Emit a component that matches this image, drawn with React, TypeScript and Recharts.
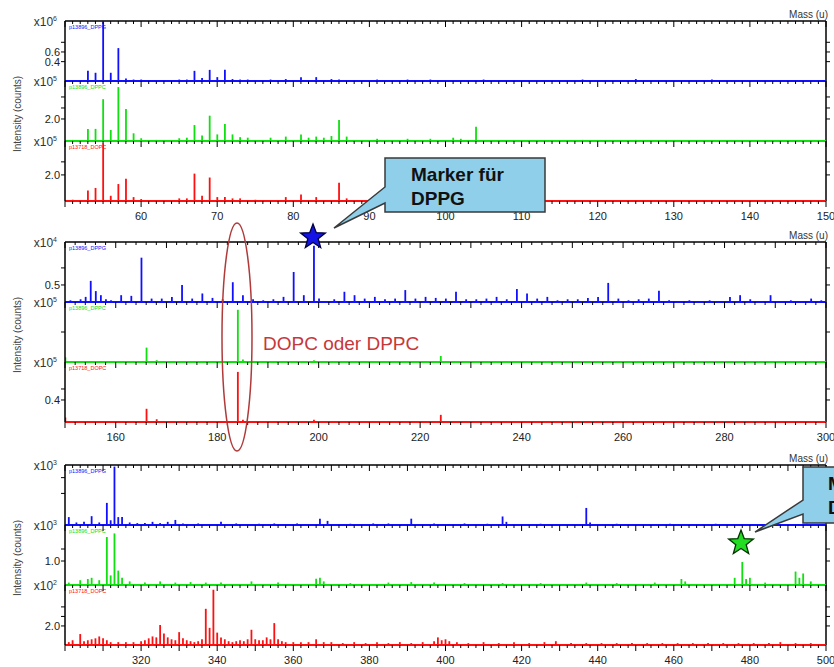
import React from "react";
import { Bar, BarChart, ReferenceLine, XAxis, YAxis } from "recharts";

type Peak = [number, number];

// panel 1, m/z 50-150
const dppgLow: Peak[] = [
  [53, 0.21], [54, 0.17], [55, 1.22], [56, 0.17], [57, 0.68], [58, 0.05], [59, 0.03], [60, 0.03],
  [63, 0.02], [65, 0.03], [66, 0.03], [67, 0.21], [68, 0.06], [69, 0.23], [70, 0.08], [71, 0.23],
  [72, 0.04], [73, 0.03], [74, 0.03], [77, 0.03], [79, 0.04], [81, 0.08], [83, 0.08], [85, 0.04],
  [86, 0.03], [91, 0.03], [95, 0.03], [98, 0.03], [105, 0.03], [118, 0.03], [125, 0.04], [135, 0.03],
];
const dppcLow: Peak[] = [
  [51, 0.1], [53, 1.1], [54, 1.1], [55, 3.8], [56, 1.0], [57, 4.9], [58, 2.9], [59, 0.7], [60, 0.25],
  [62, 0.1], [65, 0.25], [66, 0.3], [67, 1.45], [68, 0.5], [69, 2.3], [70, 0.6], [71, 1.55], [72, 0.6],
  [73, 0.35], [74, 0.3], [77, 0.3], [79, 0.4], [81, 0.6], [82, 0.3], [83, 0.4], [84, 0.3], [85, 0.45],
  [86, 1.9], [87, 0.4], [91, 0.2], [95, 0.2], [98, 0.2], [101, 0.3], [102, 0.2], [104, 1.3], [112, 0.1],
  [118, 0.1], [125, 0.1],
];
const dopcLow: Peak[] = [
  [51, 0.1], [53, 0.8], [54, 1.0], [55, 4.4], [56, 0.4], [57, 1.3], [58, 1.7], [59, 0.3], [60, 0.15],
  [65, 0.2], [66, 0.2], [67, 2.1], [68, 0.4], [69, 1.8], [70, 0.3], [71, 0.3], [72, 0.2], [73, 0.2],
  [75, 0.1], [79, 0.3], [81, 0.5], [83, 0.3], [86, 1.4], [87, 0.2], [91, 0.1],
];

// panel 2, m/z 150-300
const dppgMid: Peak[] = [
  [151, 0.05], [153, 0.08], [154, 0.15], [155, 0.62], [156, 0.32], [157, 0.2], [158, 0.08], [159, 0.05],
  [161, 0.2], [163, 0.18], [165, 1.3], [167, 0.1], [169, 0.1], [171, 0.15], [173, 0.5], [175, 0.1],
  [177, 0.25], [179, 0.12], [181, 0.08], [183, 0.58], [185, 0.2], [187, 0.08], [189, 0.05], [191, 0.08],
  [193, 0.15], [195, 0.88], [197, 0.2], [199, 1.65], [200, 0.1], [203, 0.08], [205, 0.3], [207, 0.2],
  [209, 0.1], [211, 0.15], [213, 0.08], [215, 0.1], [217, 0.35], [219, 0.1], [221, 0.15], [223, 0.12],
  [225, 0.1], [227, 0.3], [229, 0.08], [231, 0.08], [233, 0.1], [235, 0.15], [237, 0.08], [239, 0.38],
  [241, 0.25], [243, 0.1], [245, 0.15], [247, 0.05], [249, 0.08], [251, 0.08], [253, 0.12], [255, 0.15],
  [257, 0.56], [259, 0.1], [261, 0.05], [263, 0.08], [265, 0.1], [267, 0.33], [269, 0.05], [273, 0.05],
  [277, 0.05], [281, 0.15], [283, 0.2], [285, 0.08], [289, 0.2], [293, 0.05], [297, 0.1], [299, 0.05],
];
const dppcMid: Peak[] = [
  [150, 0.08], [166, 0.24], [168, 0.03], [184, 0.87], [185, 0.04], [199, 0.03], [224, 0.1],
];
const dopcMid: Peak[] = [
  [150, 0.08], [166, 0.24], [168, 0.05], [184, 0.91], [185, 0.04], [199, 0.04], [224, 0.13],
];

// panel 3, m/z 300-500
const dppgHigh: Peak[] = [
  [301, 0.25], [303, 0.08], [305, 0.1], [307, 0.28], [309, 0.08], [311, 0.7], [312, 0.15], [313, 1.85],
  [314, 0.25], [315, 0.25], [317, 0.08], [319, 0.06], [321, 0.06], [323, 0.1], [325, 0.06], [327, 0.1],
  [329, 0.16], [331, 0.05], [335, 0.05], [341, 0.1], [345, 0.05], [351, 0.04], [355, 0.05], [361, 0.05],
  [367, 0.2], [369, 0.13], [375, 0.04], [381, 0.05], [385, 0.05], [391, 0.2], [397, 0.05], [405, 0.05],
  [411, 0.04], [415, 0.27], [416, 0.1], [425, 0.04], [437, 0.54], [438, 0.08], [445, 0.04], [459, 0.04],
  [471, 0.04], [485, 0.04], [495, 0.04],
];
const dppcHigh: Peak[] = [
  [301, 0.1], [304, 0.2], [306, 0.25], [307, 0.3], [309, 0.2], [311, 2.0], [312, 0.4], [313, 2.15],
  [314, 0.6], [315, 0.3], [317, 0.15], [321, 0.1], [325, 0.15], [329, 0.1], [333, 0.12], [337, 0.1],
  [341, 0.1], [349, 0.15], [356, 0.1], [366, 0.26], [367, 0.3], [368, 0.15], [375, 0.08], [385, 0.1],
  [391, 0.12], [397, 0.1], [405, 0.08], [415, 0.08], [425, 0.08], [437, 0.1], [445, 0.08], [455, 0.1],
  [462, 0.25], [463, 0.15], [476, 0.3], [478, 0.96], [479, 0.25], [480, 0.3], [484, 0.1], [492, 0.56],
  [493, 0.3], [494, 0.48], [496, 0.15],
];
const dopcHigh: Peak[] = [
  [301, 0.3], [302, 0.5], [304, 1.15], [305, 0.4], [306, 0.5], [307, 0.6], [308, 0.7], [309, 0.9],
  [310, 0.7], [311, 0.5], [312, 0.3], [314, 0.3], [316, 0.3], [318, 0.3], [320, 0.4], [321, 0.5],
  [322, 0.7], [323, 0.9], [324, 0.8], [325, 2.1], [326, 1.2], [327, 0.8], [328, 0.6], [329, 0.5],
  [330, 1.35], [331, 0.7], [332, 0.5], [333, 0.4], [334, 0.3], [335, 0.4], [336, 0.6], [337, 3.8],
  [338, 1.8], [339, 5.8], [340, 1.3], [341, 0.8], [342, 0.6], [343, 0.4], [344, 0.3], [345, 0.4],
  [346, 0.5], [347, 0.4], [348, 0.6], [349, 1.6], [350, 0.6], [351, 0.5], [352, 0.5], [353, 0.8],
  [354, 0.6], [355, 2.3], [356, 0.6], [357, 0.4], [358, 0.3], [360, 0.3], [362, 0.3], [364, 0.3],
  [366, 0.6], [368, 0.3], [370, 0.3], [373, 0.2], [376, 0.3], [379, 0.2], [382, 0.3], [385, 0.2],
  [388, 0.3], [391, 0.2], [394, 0.3], [397, 0.4], [398, 0.8], [399, 0.5], [400, 0.6], [401, 0.4],
  [403, 0.3], [406, 0.2], [410, 0.3], [414, 0.2], [418, 0.3], [422, 0.2], [426, 0.3], [429, 0.4],
  [433, 0.2], [437, 0.2], [441, 0.2], [445, 0.2], [449, 0.2], [453, 0.2], [457, 0.2], [461, 0.2],
  [465, 0.2], [469, 0.2], [473, 0.2], [477, 0.2], [481, 0.2], [485, 0.2], [488, 0.3], [492, 0.2],
  [496, 0.2],
];

const lowLabels = [60, 70, 80, 90, 100, 110, 120, 130, 140, 150];
const midLabels = [160, 180, 200, 220, 240, 260, 280, 300];
const highLabels = [320, 340, 360, 380, 400, 420, 440, 460, 480, 500];

const sampleNames = ["p13896_DPPG", "p13896_DPPC", "p13718_DOPC"];

const BLUE = "#1010ff";
const GREEN = "#10e010";
const RED = "#ff1010";
const FONT = "'Liberation Sans', Arial, Helvetica, sans-serif";

const W = 834;
const PL = 65;
const PR = 826;
const H = 60;
const MT = 14;
const MB = 30;
const THIN = 0.001; // axes of zero size are not drawn at all

function range(a: number, b: number, step: number) {
  const out: number[] = [];
  for (let v = a; v <= b + 1e-9; v += step) out.push(Math.round(v * 1000) / 1000);
  return out;
}

interface SubProps {
  peaks: Peak[];
  color: string;
  name: string;
  exp: string;
  top: number;
  xDomain: [number, number];
  minor: number;
  labels?: number[];
  yMax: number;
  yTicks: number[];
  yLabels: number[];
  first?: boolean;
}

function Sub({ peaks, color, name, exp, top, xDomain, minor, labels, yMax, yTicks, yLabels, first }: SubProps) {
  const data = peaks.map(([m, v]) => ({ m, v }));
  const ticks = range(xDomain[0], xDomain[1], minor);

  const xTick = (p: any) => {
    const v = p.payload.value;
    const px = p.x;
    const major = Math.abs(v % 10) < 1e-6;
    const len = major ? 6 : 3;
    return (
      <g>
        <line x1={px} x2={px} y1={MT} y2={MT + len} stroke="#000" strokeWidth={1} />
        {labels && <line x1={px} x2={px} y1={MT + H} y2={MT + H + len} stroke="#000" strokeWidth={1} />}
        {labels && labels.includes(v) && (
          <text x={px} y={MT + H + 19} textAnchor="middle" fontSize={11} fill="#222" fontFamily={FONT}>
            {v}
          </text>
        )}
      </g>
    );
  };

  const yTick = (p: any) => {
    const v = p.payload.value;
    const py = p.y;
    return (
      <g>
        <line x1={PL - 4} x2={PL} y1={py} y2={py} stroke="#000" />
        <line x1={PR} x2={PR + 4} y1={py} y2={py} stroke="#000" />
        {yLabels.includes(v) && (
          <text x={PL - 5} y={py + 4} textAnchor="end" fontSize={11} fill="#222" fontFamily={FONT}>
            {v.toFixed(1)}
          </text>
        )}
      </g>
    );
  };

  return (
    <div style={{ position: "absolute", left: 0, top: top - MT }}>
      <BarChart
        width={W}
        height={H + MT + MB}
        data={data}
        margin={{ top: MT, right: W - PR, bottom: MB, left: PL }}
      >
        <XAxis
          dataKey="m"
          type="number"
          orientation="top"
          domain={xDomain}
          allowDataOverflow
          ticks={ticks}
          interval={0}
          height={THIN}
          tickLine={false}
          axisLine={first ? { stroke: "#000", strokeWidth: 1.5 } : false}
          tick={xTick}
        />
        <YAxis
          type="number"
          domain={[0, yMax]}
          allowDataOverflow
          ticks={yTicks}
          interval={0}
          width={THIN}
          tickLine={false}
          axisLine={{ stroke: "#000", strokeWidth: 1.5 }}
          tick={yTick}
        />
        <ReferenceLine x={xDomain[1]} stroke="#000" strokeWidth={1.5} />
        <Bar dataKey="v" fill={color} barSize={1.8} isAnimationActive={false} />
        <ReferenceLine y={0} stroke={color} strokeWidth={2} />
        <text x={PL - 8} y={MT + 5} textAnchor="end" fontSize={12} fill="#333" fontFamily={FONT}>
          x10
          <tspan fontSize={7} dy={-5}>
            {exp}
          </tspan>
        </text>
        <text x={PL + 4} y={MT + 8} fontSize={5.5} fill={color} fontFamily={FONT}>
          {name}
        </text>
      </BarChart>
    </div>
  );
}

const panelTops = [21, 242, 465];

function Star({ cx, cy, r, fill, stroke }: { cx: number; cy: number; r: number; fill: string; stroke: string }) {
  const pts: string[] = [];
  for (let i = 0; i < 10; i++) {
    const rad = i % 2 === 0 ? r : r * 0.42;
    const a = -Math.PI / 2 + (i * Math.PI) / 5;
    pts.push(`${cx + rad * Math.cos(a)},${cy + rad * Math.sin(a)}`);
  }
  return <polygon points={pts.join(" ")} fill={fill} stroke={stroke} strokeWidth={1.3} />;
}

export default function App() {
  return (
    <div
      style={{
        position: "absolute",
        left: 0,
        top: 0,
        width: 834,
        height: 667,
        background: "#fff",
        fontFamily: FONT,
        overflow: "hidden",
      }}
    >
      {/* panel 1 */}
      <Sub peaks={dppgLow} color={BLUE} name={sampleNames[0]} exp="6" top={panelTops[0]} xDomain={[50, 150]} minor={1}
        yMax={1.24} yTicks={[0.4, 0.6, 0.8]} yLabels={[0.4, 0.6]} first />
      <Sub peaks={dppcLow} color={GREEN} name={sampleNames[1]} exp="5" top={panelTops[0] + H} xDomain={[50, 150]} minor={1}
        yMax={5.45} yTicks={[2, 3, 4]} yLabels={[2]} />
      <Sub peaks={dopcLow} color={RED} name={sampleNames[2]} exp="5" top={panelTops[0] + 2 * H} xDomain={[50, 150]} minor={1}
        labels={lowLabels} yMax={4.6} yTicks={[2, 3]} yLabels={[2]} />

      {/* panel 2 */}
      <Sub peaks={dppgMid} color={BLUE} name={sampleNames[0]} exp="4" top={panelTops[1]} xDomain={[150, 300]} minor={2}
        yMax={1.76} yTicks={[0.5, 1.0]} yLabels={[0.5]} first />
      <Sub peaks={dppcMid} color={GREEN} name={sampleNames[1]} exp="5" top={panelTops[1] + H} xDomain={[150, 300]} minor={2}
        yMax={1.0} yTicks={[0.5]} yLabels={[]} />
      <Sub peaks={dopcMid} color={RED} name={sampleNames[2]} exp="5" top={panelTops[1] + 2 * H} xDomain={[150, 300]} minor={2}
        labels={midLabels} yMax={1.09} yTicks={[0.4, 0.6]} yLabels={[0.4]} />

      {/* panel 3 */}
      <Sub peaks={dppgHigh} color={BLUE} name={sampleNames[0]} exp="3" top={panelTops[2]} xDomain={[300, 500]} minor={2}
        yMax={1.9} yTicks={[1.0, 1.5]} yLabels={[]} first />
      <Sub peaks={dppcHigh} color={GREEN} name={sampleNames[1]} exp="3" top={panelTops[2] + H} xDomain={[300, 500]} minor={2}
        yMax={2.5} yTicks={[1.0, 1.5]} yLabels={[1.0]} />
      <Sub peaks={dopcHigh} color={RED} name={sampleNames[2]} exp="2" top={panelTops[2] + 2 * H} xDomain={[300, 500]} minor={2}
        labels={highLabels} yMax={6.3} yTicks={[2, 3, 4]} yLabels={[2]} />

      {/* titles and annotations */}
      <svg width={834} height={667} style={{ position: "absolute", left: 0, top: 0, pointerEvents: "none" }}>
        {panelTops.map((t) => (
          <g key={t}>
            <text x={828} y={t - 3} textAnchor="end" fontSize={10} fill="#333" fontFamily={FONT}>
              Mass (u)
            </text>
            <text
              transform={`translate(21, ${t + 93}) rotate(-90)`}
              textAnchor="middle"
              fontSize={10}
              fill="#444"
              fontFamily={FONT}
            >
              Intensity (counts)
            </text>
          </g>
        ))}

        <path
          d="M385,158 H545 V212 H385 V203 L334,228 L385,187 Z"
          fill="#8fcfea"
          stroke="#3a3a3a"
          strokeWidth={1.5}
        />
        <text x={411} y={181} fontSize={19} fontWeight="bold" fill="#111" fontFamily={FONT}>
          Marker für
        </text>
        <text x={411} y={205} fontSize={19} fontWeight="bold" fill="#111" fontFamily={FONT}>
          DPPG
        </text>
        <Star cx={313} cy={237} r={13} fill="#1414e6" stroke="#000040" />

        <ellipse cx={237} cy={337} rx={15} ry={114} fill="none" stroke="#b03a3a" strokeWidth={1.5} />
        <text x={263} y={350} fontSize={19} fill="#c8373a" fontFamily={FONT}>
          DOPC oder DPPC
        </text>

        <path
          d="M803,467 H850 V523 H803 V514 L755,532 L803,500 Z"
          fill="#8fcfea"
          stroke="#3a3a3a"
          strokeWidth={1.5}
        />
        <text x={828} y={490} fontSize={19} fontWeight="bold" fill="#111" fontFamily={FONT}>
          Marker für
        </text>
        <text x={828} y={514} fontSize={19} fontWeight="bold" fill="#111" fontFamily={FONT}>
          DPPC
        </text>
        <Star cx={741} cy={543} r={13} fill="#22dd22" stroke="#003300" />
      </svg>
    </div>
  );
}
